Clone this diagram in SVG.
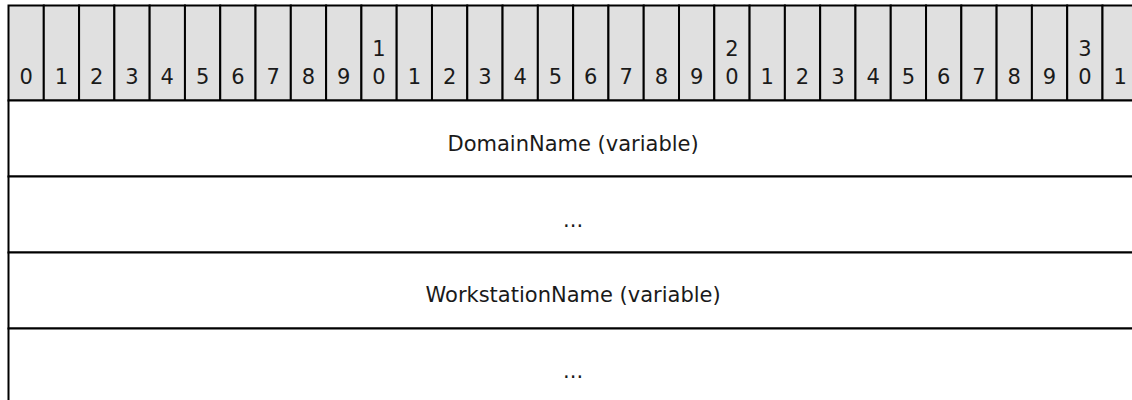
<svg xmlns="http://www.w3.org/2000/svg" width="1132" height="400" viewBox="0 0 1132 400">
  <style>
    .hdr { fill: #e0e0e0; stroke: #000; stroke-width: 2; }
    .row { fill: #ffffff; stroke: #000; stroke-width: 2; }
    text { font-family: "DejaVu Sans", Verdana, sans-serif; font-size: 21px; fill: #1a1a1a; text-anchor: middle; }
  </style>
  <rect x="0" y="0" width="1132" height="400" fill="#ffffff"/>

  <!-- bit-number header: 32 cells, 35.29px each, starting at x=8.5 -->
  <g id="bit-header">
    <rect class="hdr" x="8.5" y="5.5" width="35.29" height="95"/>
    <rect class="hdr" x="43.79" y="5.5" width="35.29" height="95"/>
    <rect class="hdr" x="79.08" y="5.5" width="35.29" height="95"/>
    <rect class="hdr" x="114.37" y="5.5" width="35.29" height="95"/>
    <rect class="hdr" x="149.66" y="5.5" width="35.29" height="95"/>
    <rect class="hdr" x="184.95" y="5.5" width="35.29" height="95"/>
    <rect class="hdr" x="220.24" y="5.5" width="35.29" height="95"/>
    <rect class="hdr" x="255.53" y="5.5" width="35.29" height="95"/>
    <rect class="hdr" x="290.82" y="5.5" width="35.29" height="95"/>
    <rect class="hdr" x="326.11" y="5.5" width="35.29" height="95"/>
    <rect class="hdr" x="361.4" y="5.5" width="35.29" height="95"/>
    <rect class="hdr" x="396.69" y="5.5" width="35.29" height="95"/>
    <rect class="hdr" x="431.98" y="5.5" width="35.29" height="95"/>
    <rect class="hdr" x="467.27" y="5.5" width="35.29" height="95"/>
    <rect class="hdr" x="502.56" y="5.5" width="35.29" height="95"/>
    <rect class="hdr" x="537.85" y="5.5" width="35.29" height="95"/>
    <rect class="hdr" x="573.14" y="5.5" width="35.29" height="95"/>
    <rect class="hdr" x="608.43" y="5.5" width="35.29" height="95"/>
    <rect class="hdr" x="643.72" y="5.5" width="35.29" height="95"/>
    <rect class="hdr" x="679.01" y="5.5" width="35.29" height="95"/>
    <rect class="hdr" x="714.3" y="5.5" width="35.29" height="95"/>
    <rect class="hdr" x="749.59" y="5.5" width="35.29" height="95"/>
    <rect class="hdr" x="784.88" y="5.5" width="35.29" height="95"/>
    <rect class="hdr" x="820.17" y="5.5" width="35.29" height="95"/>
    <rect class="hdr" x="855.46" y="5.5" width="35.29" height="95"/>
    <rect class="hdr" x="890.75" y="5.5" width="35.29" height="95"/>
    <rect class="hdr" x="926.04" y="5.5" width="35.29" height="95"/>
    <rect class="hdr" x="961.33" y="5.5" width="35.29" height="95"/>
    <rect class="hdr" x="996.62" y="5.5" width="35.29" height="95"/>
    <rect class="hdr" x="1031.91" y="5.5" width="35.29" height="95"/>
    <rect class="hdr" x="1067.2" y="5.5" width="35.29" height="95"/>
    <rect class="hdr" x="1102.49" y="5.5" width="35.29" height="95"/>

    <text x="26.15" y="83.5">0</text>
    <text x="61.44" y="83.5">1</text>
    <text x="96.73" y="83.5">2</text>
    <text x="132.02" y="83.5">3</text>
    <text x="167.31" y="83.5">4</text>
    <text x="202.6" y="83.5">5</text>
    <text x="237.89" y="83.5">6</text>
    <text x="273.18" y="83.5">7</text>
    <text x="308.47" y="83.5">8</text>
    <text x="343.76" y="83.5">9</text>
    <text x="379.05" y="56">1<tspan x="379.05" y="83.5">0</tspan></text>
    <text x="414.34" y="83.5">1</text>
    <text x="449.63" y="83.5">2</text>
    <text x="484.92" y="83.5">3</text>
    <text x="520.21" y="83.5">4</text>
    <text x="555.5" y="83.5">5</text>
    <text x="590.79" y="83.5">6</text>
    <text x="626.08" y="83.5">7</text>
    <text x="661.37" y="83.5">8</text>
    <text x="696.66" y="83.5">9</text>
    <text x="731.95" y="56">2<tspan x="731.95" y="83.5">0</tspan></text>
    <text x="767.24" y="83.5">1</text>
    <text x="802.53" y="83.5">2</text>
    <text x="837.82" y="83.5">3</text>
    <text x="873.11" y="83.5">4</text>
    <text x="908.4" y="83.5">5</text>
    <text x="943.69" y="83.5">6</text>
    <text x="978.98" y="83.5">7</text>
    <text x="1014.27" y="83.5">8</text>
    <text x="1049.56" y="83.5">9</text>
    <text x="1084.85" y="56">3<tspan x="1084.85" y="83.5">0</tspan></text>
    <text x="1120.14" y="83.5">1</text>
  </g>

  <!-- field rows, full 32-bit width -->
  <g id="field-domain-name">
    <rect class="row" x="8.5" y="100.5" width="1129.28" height="76"/>
    <text x="573.1" y="151">DomainName (variable)</text>
  </g>

  <g id="field-domain-name-cont">
    <rect class="row" x="8.5" y="176.5" width="1129.28" height="76"/>
    <text x="573.1" y="227">...</text>
  </g>

  <g id="field-workstation-name">
    <rect class="row" x="8.5" y="252.5" width="1129.28" height="76"/>
    <text x="573.1" y="302">WorkstationName (variable)</text>
  </g>

  <g id="field-workstation-name-cont">
    <rect class="row" x="8.5" y="328.5" width="1129.28" height="76"/>
    <text x="573.1" y="378">...</text>
  </g>

  <!-- no connectors in a packet layout -->
  <g id="connectors"/>
</svg>
